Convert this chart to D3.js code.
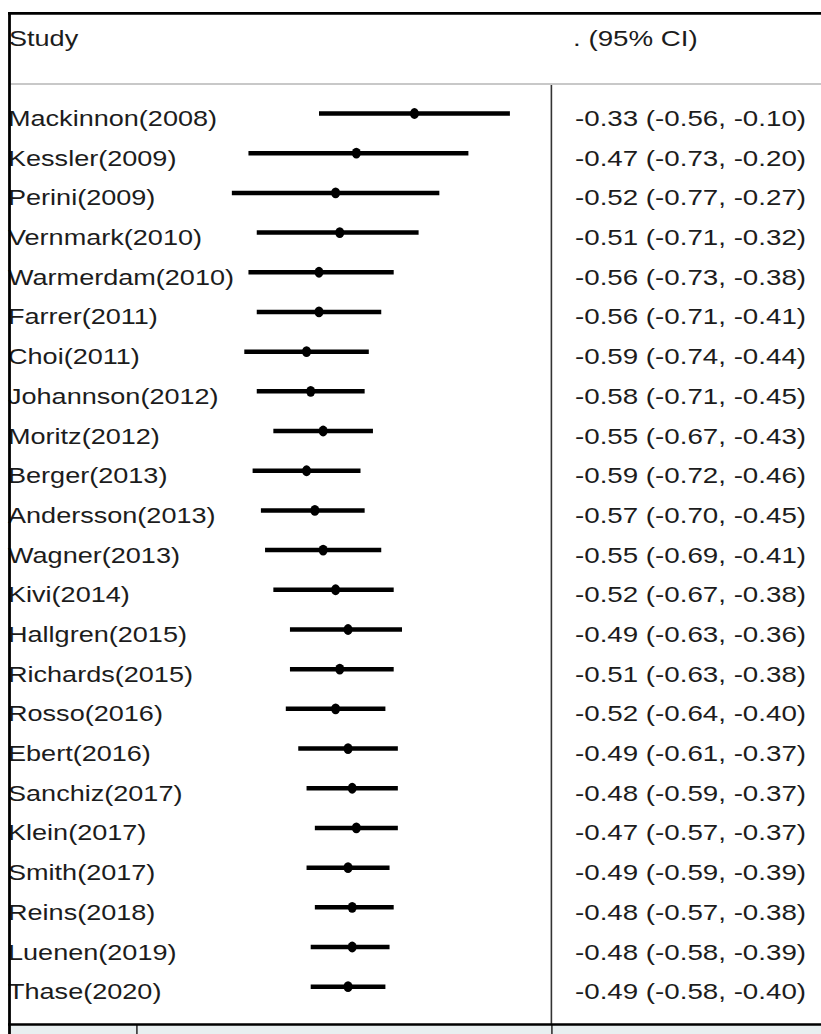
<!DOCTYPE html>
<html>
<head>
<meta charset="utf-8">
<script src="https://cdn.jsdelivr.net/npm/d3@7"></script>
<style>
  html, body { margin: 0; padding: 0; background: #fff; }
  svg { display: block; }
  text { font-family: "Liberation Sans", Arial, sans-serif; fill: #1c1c1c; }
</style>
</head>
<body>
<svg id="chart" width="821" height="1034"></svg>
<script>
const studies = ["Mackinnon(2008)","Kessler(2009)","Perini(2009)","Vernmark(2010)","Warmerdam(2010)",
  "Farrer(2011)","Choi(2011)","Johannson(2012)","Moritz(2012)","Berger(2013)","Andersson(2013)",
  "Wagner(2013)","Kivi(2014)","Hallgren(2015)","Richards(2015)","Rosso(2016)","Ebert(2016)",
  "Sanchiz(2017)","Klein(2017)","Smith(2017)","Reins(2018)","Luenen(2019)","Thase(2020)"];
const estimates = [-0.33,-0.47,-0.52,-0.51,-0.56,-0.56,-0.59,-0.58,-0.55,-0.59,-0.57,-0.55,-0.52,-0.49,-0.51,-0.52,-0.49,-0.48,-0.47,-0.49,-0.48,-0.48,-0.49];
const lower = [-0.56,-0.73,-0.77,-0.71,-0.73,-0.71,-0.74,-0.71,-0.67,-0.72,-0.70,-0.69,-0.67,-0.63,-0.63,-0.64,-0.61,-0.59,-0.57,-0.59,-0.57,-0.58,-0.58];
const upper = [-0.10,-0.20,-0.27,-0.32,-0.38,-0.41,-0.44,-0.45,-0.43,-0.46,-0.45,-0.41,-0.38,-0.36,-0.38,-0.40,-0.37,-0.37,-0.37,-0.39,-0.38,-0.39,-0.40];
const axisTicks = [-1, 0];
const headerLeft = "Study";
const headerRight = ". (95% CI)";

const data = studies.map((s, i) => ({ study: s, est: estimates[i], lo: lower[i], hi: upper[i] }));
const fmt = d3.format(".2f");
const fmtNum = v => (v < 0 ? "-" : "") + fmt(Math.abs(v));
const ciLabel = d => `${fmtNum(d.est)} (${fmtNum(d.lo)}, ${fmtNum(d.hi)})`;

const svg = d3.select("#chart");
const x = d3.scaleLinear().domain([-1, 0]).range([136.4, 551.4]);
const y = d3.scalePoint().domain(studies).range([113.5, 986.7]);
const sxL = 1.23, sxR = 1.26;

// bottom graph-region background strip
svg.append("rect").attr("x", 8).attr("y", 1025).attr("width", 813).attr("height", 9).attr("fill", "#e8eff0");

// header separator
svg.append("line").attr("x1", 9).attr("x2", 821).attr("y1", 84).attr("y2", 84)
  .attr("stroke", "#c8c8c8").attr("stroke-width", 2.2);

// null line
svg.append("line").attr("x1", x(0)).attr("x2", x(0)).attr("y1", 85).attr("y2", 1025)
  .attr("stroke", "#333").attr("stroke-width", 1.6);

// axis ticks below (labels fall outside the visible area, so none are drawn)
const axis = d3.axisBottom(x).tickValues(axisTicks).tickSize(12).tickFormat("");
const ax = svg.append("g").attr("transform", "translate(0,1025)").call(axis);
ax.select(".domain").remove();
ax.selectAll(".tick line").attr("stroke", "#333").attr("stroke-width", 1.6);

// headers
svg.append("text").attr("transform", `translate(9,46) scale(${sxL},1)`).attr("font-size", 22).text(headerLeft);
svg.append("text").attr("transform", `translate(573,46) scale(${sxR},1)`).attr("font-size", 22).text(headerRight);

// rows
const rows = svg.append("g").selectAll("g").data(data).join("g");
rows.append("text")
  .attr("transform", d => `translate(8,${y(d.study) + 12.5}) scale(${sxL},1)`)
  .attr("font-size", 22).text(d => d.study);
rows.append("text")
  .attr("transform", d => `translate(575,${y(d.study) + 12.5}) scale(${sxR},1)`)
  .attr("font-size", 22).text(d => ciLabel(d));
rows.append("line")
  .attr("x1", d => x(d.lo)).attr("x2", d => x(d.hi))
  .attr("y1", d => y(d.study)).attr("y2", d => y(d.study))
  .attr("stroke", "#000").attr("stroke-width", 4.5);
rows.append("path")
  .attr("transform", d => `translate(${x(d.est)},${y(d.study)}) scale(1,1.2)`)
  .attr("d", d3.symbol(d3.symbolCircle, 64))
  .attr("fill", "#000");

// outer frame: top, left, bottom
svg.append("line").attr("x1", 8).attr("x2", 821).attr("y1", 13.3).attr("y2", 13.3)
  .attr("stroke", "#000").attr("stroke-width", 2.8);
svg.append("line").attr("x1", 9.5).attr("x2", 9.5).attr("y1", 12).attr("y2", 1034)
  .attr("stroke", "#000").attr("stroke-width", 2.8);
svg.append("line").attr("x1", 8).attr("x2", 821).attr("y1", 1024.5).attr("y2", 1024.5)
  .attr("stroke", "#000").attr("stroke-width", 2.6);
</script>
</body>
</html>
